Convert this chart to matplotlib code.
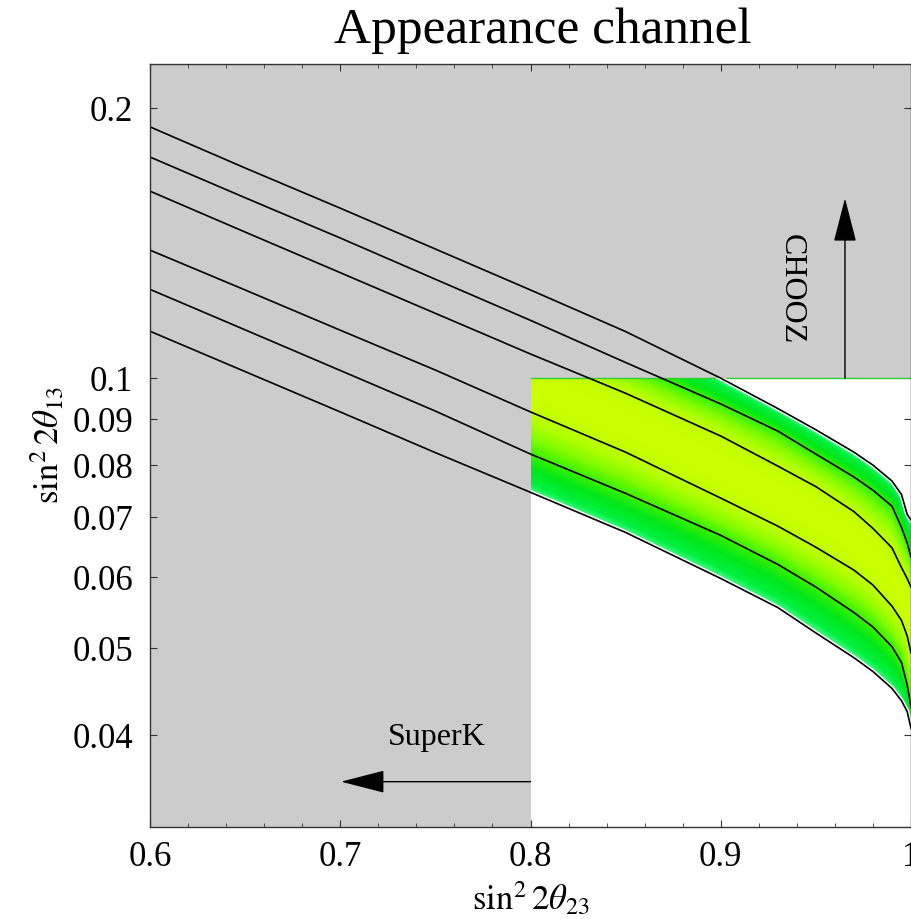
import numpy as np
import matplotlib
matplotlib.use("Agg")
import matplotlib.pyplot as plt
from matplotlib.colors import LinearSegmentedColormap
from matplotlib.patches import Rectangle

plt.rcParams['font.family'] = ['Liberation Serif', 'DejaVu Serif']
plt.rcParams['mathtext.fontset'] = 'stix'

# sin^2 2theta23 sample points
x23 = [0.6, 0.65, 0.7, 0.75, 0.8, 0.85, 0.9, 0.93, 0.95, 0.97, 0.98, 0.99, 0.995, 0.998, 1.0]

# contour lines of sin^2 2theta13, bottom to top
line1 = [0.1128, 0.1017, 0.0917, 0.0826, 0.0746, 0.0673, 0.0598, 0.0555, 0.0520, 0.0488, 0.0471, 0.0451, 0.0437, 0.0425, 0.0407]
line2 = [0.1256, 0.1132, 0.1020, 0.0919, 0.0823, 0.0744, 0.0668, 0.0620, 0.0585, 0.0548, 0.0528, 0.0502, 0.0482, 0.0455, 0.0430]
line3 = [0.1389, 0.1254, 0.1131, 0.1021, 0.0917, 0.0827, 0.0735, 0.0684, 0.0648, 0.0611, 0.0588, 0.0557, 0.0537, 0.0516, 0.0494]
line4 = [0.1616, 0.1455, 0.1311, 0.1181, 0.1064, 0.0962, 0.0862, 0.0798, 0.0757, 0.0710, 0.0680, 0.0647, 0.0615, 0.0598, 0.0585]
line5 = [0.1764, 0.1589, 0.1433, 0.1289, 0.1160, 0.1041, 0.0936, 0.0873, 0.0823, 0.0776, 0.0750, 0.0720, 0.0682, 0.0655, 0.0632]
line6 = [0.1906, 0.1715, 0.1547, 0.1393, 0.1254, 0.1127, 0.1000, 0.0925, 0.0876, 0.0827, 0.0800, 0.0768, 0.0742, 0.0705, 0.0695]
lines = [line1, line2, line3, line4, line5, line6]

# bounds
superk_x = 0.8
chooz_y = 0.1

xticks = [0.6, 0.7, 0.8, 0.9, 1.0]
xticklabels = ['0.6', '0.7', '0.8', '0.9', '1']
yticks = [0.04, 0.05, 0.06, 0.07, 0.08, 0.09, 0.1, 0.2]
yticklabels = ['0.04', '0.05', '0.06', '0.07', '0.08', '0.09', '0.1', '0.2']

fig = plt.figure(figsize=(9.12, 9.19), dpi=100)
ax = fig.add_axes([0.1645, 0.1001, 0.8344, 0.8303])
ax.set_facecolor('#cccccc')
ax.set_yscale('log')
ax.set_xlim(0.6, 1.0)
ax.set_ylim(0.0316, 0.224)

# allowed region (white)
allowed = Rectangle((superk_x, 0.01), 1.0 - superk_x, chooz_y - 0.01,
                    facecolor='white', edgecolor='none', zorder=1)
ax.add_patch(allowed)

# density band between the outer contours
xs = np.linspace(superk_x, 1.0, 500)
ys = np.logspace(np.log10(0.03), np.log10(chooz_y), 500)
logs = np.log10(np.array(lines))
D = np.full((len(ys), len(xs)), np.nan)
for j, xv in enumerate(xs):
    lv = np.array([np.interp(xv, x23, l) for l in logs])
    ly = np.log10(ys)
    inside = (ly >= lv[0]) & (ly <= lv[-1])
    t = np.interp(ly, lv, np.arange(6))
    D[inside, j] = np.abs(t[inside] - 2.5) / 2.5
cmap = LinearSegmentedColormap.from_list('band', [
    (0.0, '#ccff00'), (0.15, '#c6ff00'), (0.3, '#b0ff00'), (0.45, '#80fc00'),
    (0.6, '#38f200'), (0.75, '#00e81c'), (0.9, '#00f040'), (1.0, '#50ff90')])
mesh = ax.pcolormesh(xs, ys, np.ma.masked_invalid(D), cmap=cmap, vmin=0, vmax=1,
                     shading='gouraud', zorder=2, rasterized=True)
mesh.set_clip_path(allowed)
ax.plot([superk_x, 1.0], [chooz_y, chooz_y], color='#33cc33', lw=1.0, zorder=3)

# white halo under the outer contours inside the allowed region
for l in (line1, line6):
    h, = ax.plot(x23, l, color='white', lw=3.2, zorder=3)
    h.set_clip_path(allowed)
for l in lines:
    ax.plot(x23, l, color='black', lw=1.2, zorder=4)

# arrows and labels
ax.annotate('', xy=(0.7004, 0.0355), xytext=(superk_x, 0.0355),
            arrowprops=dict(arrowstyle='-|>,head_length=2.8,head_width=0.72',
                            color='black', lw=1.0, shrinkA=0, shrinkB=0,
                            mutation_scale=10), zorder=5)
ax.text(0.7506, 0.0390, 'SuperK', fontsize=23, ha='center', va='baseline', zorder=5)
ax.annotate('', xy=(0.9653, 0.1587), xytext=(0.9653, chooz_y),
            arrowprops=dict(arrowstyle='-|>,head_length=2.8,head_width=0.72',
                            color='black', lw=1.0, shrinkA=0, shrinkB=0,
                            mutation_scale=10), zorder=5)
ax.text(0.937, 0.1256, 'CHOOZ', fontsize=23, ha='center', va='center',
        rotation=-90, zorder=5)

# ticks
ax.set_xticks(xticks)
ax.set_xticklabels(xticklabels)
ax.set_xticks(np.arange(0.6, 1.001, 0.02), minor=True)
ax.yaxis.set_major_locator(matplotlib.ticker.FixedLocator(yticks))
ax.yaxis.set_major_formatter(matplotlib.ticker.FixedFormatter(yticklabels))
ax.yaxis.set_minor_locator(matplotlib.ticker.NullLocator())
ax.tick_params(which='both', direction='in', top=True, right=True, color='#333333')
ax.tick_params(which='major', length=5, width=0.8, labelsize=25)
ax.tick_params(axis='x', which='major', pad=10)
ax.tick_params(axis='y', which='major', pad=12)
ax.tick_params(which='minor', length=3, width=0.6)
for s in ax.spines.values():
    s.set_linewidth(1.0)
    s.set_color('#333333')
    s.set_zorder(6)

ax.set_xlabel(r'$\sin^2 2\theta_{23}$', fontsize=25, labelpad=5)
ax.set_ylabel(r'$\sin^2 2\theta_{13}$', fontsize=25, labelpad=4)
fig.text(0.595, 1 - 31 / 919, 'Appearance channel', fontsize=37,
         ha='center', va='center')

fig.savefig('out.png', dpi=100)
